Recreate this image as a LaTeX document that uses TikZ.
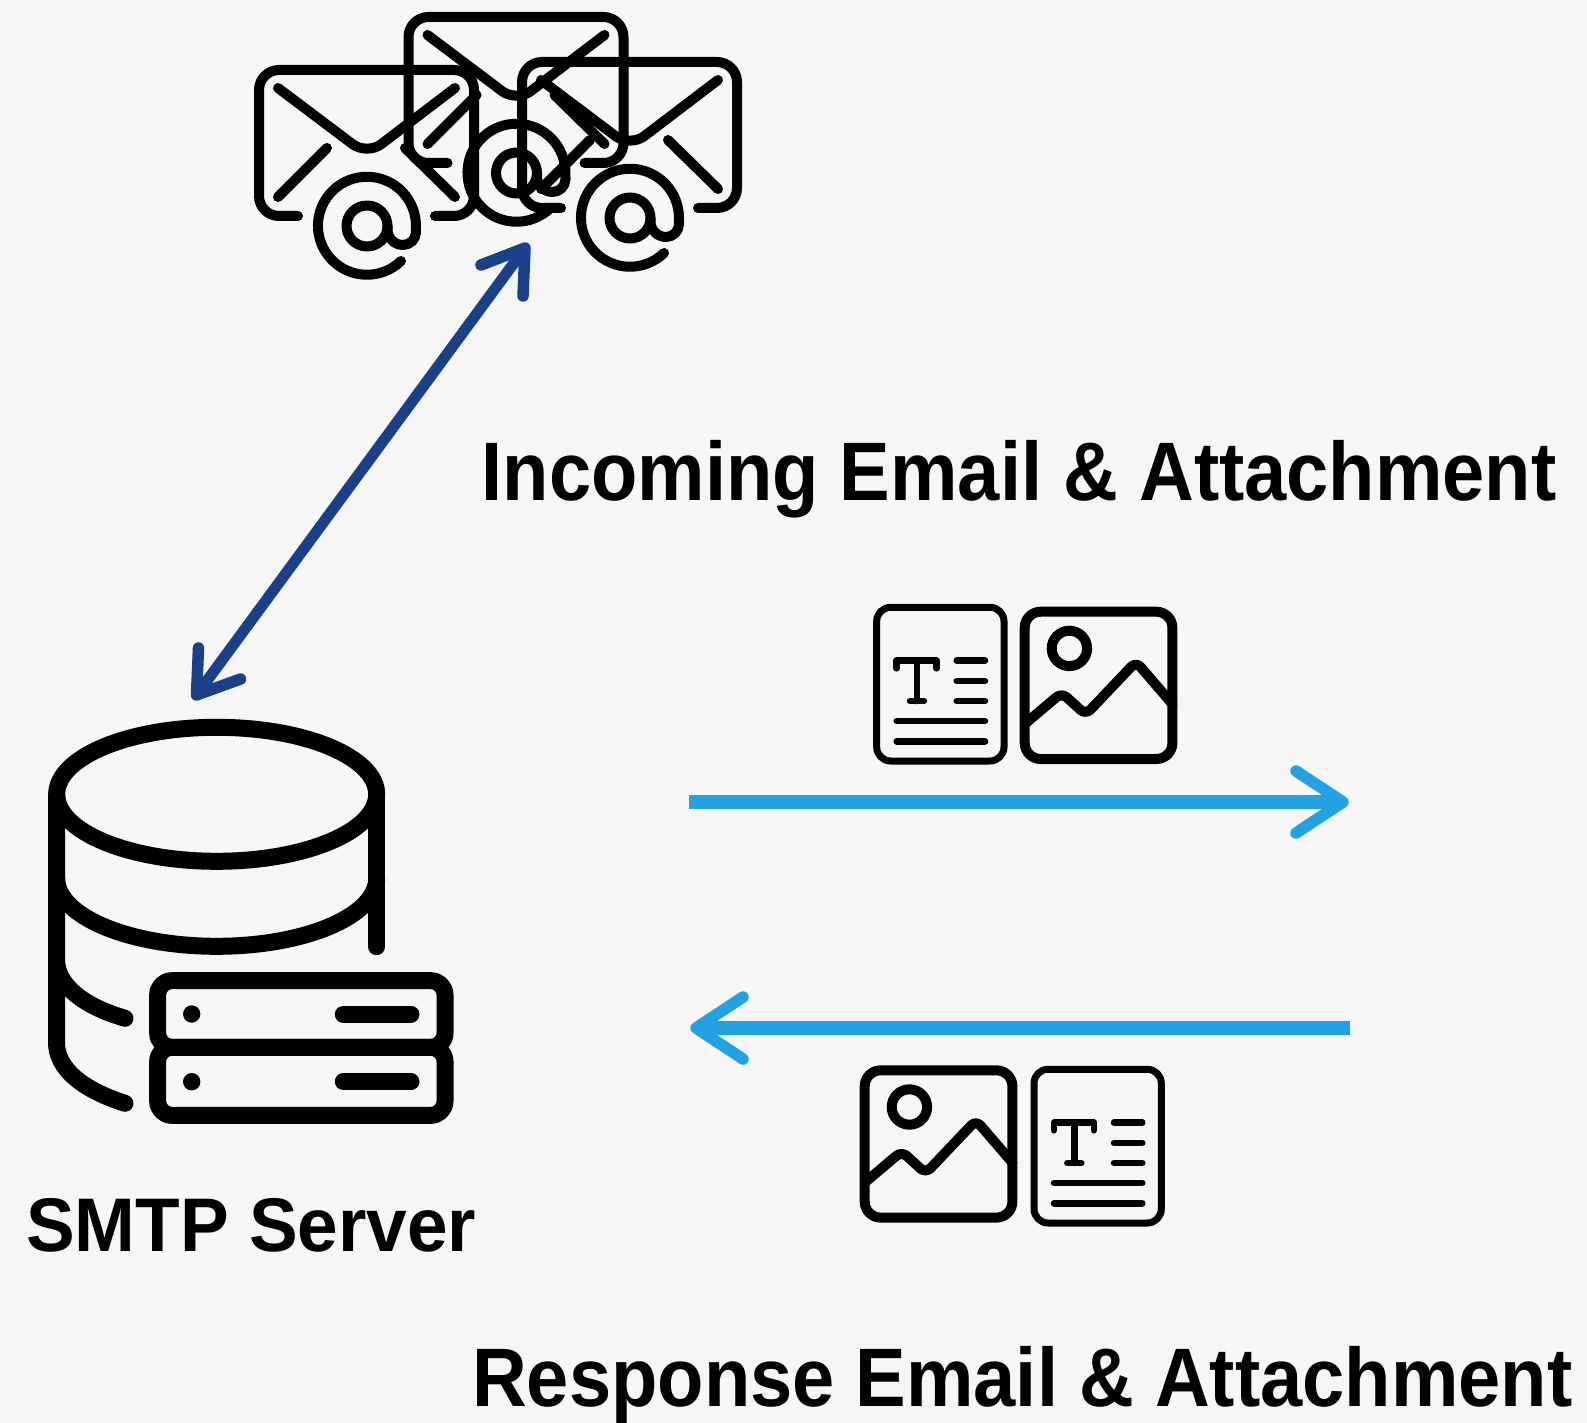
\documentclass[tikz,border=0pt]{standalone}
\usepackage{fontspec}
\newfontfamily\labelfont[FakeStretch=0.914]{Liberation Sans}
\newfontfamily\serverfont[FakeStretch=0.96]{Liberation Sans}
\usepackage{xcolor}
\usetikzlibrary{positioning}
\usetikzlibrary{calc}
\definecolor{pagegray}{HTML}{F6F6F6}
\definecolor{darkblue}{HTML}{1C3F8A}
\definecolor{skyblue}{HTML}{22A2E2}
\tikzset{
  caption/.style={font=\labelfont\bfseries\fontsize{83}{83}\selectfont, text=black, inner sep=0pt, anchor=base west},
  stroke/.style={draw=black, line cap=round, line join=round},
  head/.style={line width=11.5, line cap=round, line join=round},
  envelope/.pic={
    \draw[stroke, line width=10, rounded corners=20] (39,146) -- (0,146) -- (0,0) -- (215,0) -- (215,146) -- (176,146);
    \draw[stroke, line width=10, rounded corners=18] (19,18) -- (108,85) -- (196,18);
    \draw[stroke, line width=10] (68,78) -- (19,127);
    \draw[stroke, line width=10] (146,78) -- (196,127);
    \draw[stroke, line width=10] (108,156) circle (20.5);
    \draw[stroke, line width=10] (142,191) arc (46:360:49) -- (157,162) arc (0:90:13) arc (90:180:15.5) -- (128.5,156);
  },
  textdoc/.pic={
    \draw[stroke, line width=7, rounded corners=14] (0,0) rectangle (127.3,153.7);
    \draw[stroke, line width=6.5] (20,61) -- (20,53.3) -- (60,53.3) -- (60,61);
    \draw[stroke, line width=6.5] (40.3,53.3) -- (40.3,93.7);
    \draw[stroke, line width=6.5] (33.3,93.7) -- (47.3,93.7);
    \foreach \y in {53.3,73.7,93.7} {
      \draw[stroke, line width=6.5] (80,\y) -- (108.3,\y);
    }
    \foreach \y in {113.7,134} {
      \draw[stroke, line width=6.5] (20,\y) -- (108.3,\y);
    }
  },
  imagedoc/.pic={
    \draw[stroke, line width=10, rounded corners=16] (0,0) rectangle (147.7,147.3);
    \draw[stroke, line width=10] (44.7,36.7) circle (17.7);
    \draw[stroke, line width=10, rounded corners=7] (0,112.3) -- (37,81) -- (61,103) -- (111.3,50) -- (147.7,92.3);
  }
}

\begin{document}
\begin{tikzpicture}[x=1pt, y=-1pt]
    \useasboundingbox[fill=pagegray] (0,0) rectangle (1587,1423);

    % Mail icons
    \pic at (259,70) {envelope};
    \pic at (408.5,17) {envelope};
    \pic at (522,62) {envelope};

    % Server icon
    \draw[stroke, line width=17] (216.7,794.3) ellipse (160 and 67);
    \draw[stroke, line width=17] (56.7,794.3) -- (56.7,1046.7) .. controls (60,1074) and (90,1092) .. (125,1103.3);
    \draw[stroke, line width=17] (376.7,794.3) -- (376.7,946.7);
    \draw[stroke, line width=17] (56.7,878.3) arc (180:0:160 and 68);
    \draw[stroke, line width=17] (56.7,963.3) .. controls (60,990) and (90,1008) .. (125,1018.3);
    \draw[stroke, line width=17, rounded corners=14] (157.7,980.7) rectangle (445,1047.3);
    \draw[stroke, line width=17, rounded corners=14] (157.7,1047.3) rectangle (445,1115.3);
    \foreach \y in {1014,1081.7} {
      \fill (191.7,\y) circle (8.7);
      \draw[stroke, line width=17] (343.3,\y) -- (411,\y);
    }

    % Attachment icons
    \pic at (876.7,607.3) {textdoc};
    \pic at (1024.7,611.7) {imagedoc};
    \pic at (864.7,1070.3) {imagedoc};
    \pic at (1034,1069.3) {textdoc};

    % Labels
    \node[caption] (incoming) at (481.5,500) {Incoming Email \& Attachment};
    \node[caption] (response) at (472,1406.5) {Response Email \& Attachment};
    \node[caption, font=\serverfont\bfseries\fontsize{76}{76}\selectfont] (smtp) at (26,1251) {SMTP Server};

    % Arrow ends
    \coordinate (mailEnd) at (525,248);
    \coordinate (serverEnd) at (196.5,695);
    \coordinate (sendStart) at (689,802);
    \coordinate (sendEnd) at (1343,802);
    \coordinate (recvStart) at (1350,1028);
    \coordinate (recvEnd) at (696,1028);

    \draw[darkblue, line width=11] (mailEnd) -- (serverEnd);
    \draw[darkblue, head] ($(mailEnd)+(-44,17)$) -- (mailEnd) -- ($(mailEnd)+(-2,48)$);
    \draw[darkblue, head] ($(serverEnd)+(44,-16)$) -- (serverEnd) -- ($(serverEnd)+(2,-47)$);
    \draw[skyblue, line width=14] (sendStart) -- (sendEnd);
    \draw[skyblue, head] ($(sendEnd)+(-47,-31)$) -- (sendEnd) -- ($(sendEnd)+(-47,31)$);
    \draw[skyblue, line width=14] (recvStart) -- (recvEnd);
    \draw[skyblue, head] ($(recvEnd)+(47,-31)$) -- (recvEnd) -- ($(recvEnd)+(47,31)$);
\end{tikzpicture}
\end{document}
